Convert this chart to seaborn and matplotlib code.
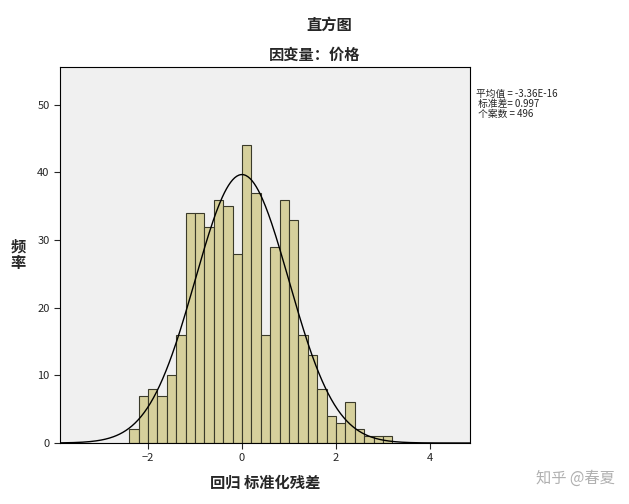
# SPSS-style residual histogram
import matplotlib.pyplot as plt
import numpy as np
import pandas as pd
import seaborn as sns

bin_left = np.round(np.arange(-2.4, 3.2, 0.2), 1)
counts = [2, 7, 8, 7, 10, 16, 34, 34, 32, 36, 35, 28, 44, 37,
          16, 29, 36, 33, 16, 13, 8, 4, 3, 6, 2, 1, 1, 1]
mean, std, n = -3.36e-16, 0.997, 496
width = 0.2

sns.set_style("white")
plt.rcParams['font.family'] = ['Noto Sans CJK SC', 'DejaVu Sans']

fig = plt.figure(figsize=(6.29, 5.04), dpi=100)
ax = fig.add_axes([60 / 629, 1 - 443 / 504, 410 / 629, 376 / 504])
ax.set_facecolor('#f0f0f0')

df = pd.DataFrame({'mid': bin_left + width / 2, 'count': counts})
edges = list(np.append(bin_left, bin_left[-1] + width))
sns.histplot(data=df, x='mid', weights='count', bins=edges, ax=ax,
             color='#d6d09c', edgecolor='#3a3a2a', linewidth=0.8, alpha=1)

xs = np.linspace(-3.87, 4.85, 400)
ys = n * width / (std * np.sqrt(2 * np.pi)) * np.exp(-0.5 * ((xs - mean) / std) ** 2)
ax.plot(xs, ys, color='black', lw=1)

ax.set_xlim(-3.87, 4.85)
ax.set_ylim(0, 55.6)
ax.set_xticks([-2, 0, 2, 4])
ax.set_yticks([0, 10, 20, 30, 40, 50])
ax.tick_params(labelsize=8, length=4, direction='out', bottom=True, left=True)
for s in ax.spines.values():
    s.set_color('black')
    s.set_linewidth(0.8)
ax.set_xlabel('回归 标准化残差', fontsize=11, labelpad=8, fontweight='bold')
ax.set_ylabel('频\n率', fontsize=11, rotation=0, va='center', labelpad=14,
              fontweight='bold', linespacing=1.0)

fig.text(329 / 629, 1 - 25 / 504, '直方图', ha='center', va='center',
         fontsize=11, fontweight='bold')
fig.text(315 / 629, 1 - 55 / 504, '因变量：价格', ha='center', va='center',
         fontsize=11, fontweight='bold')
fig.text(476 / 629, 1 - 104 / 504, '平均值 = -3.36E-16\n 标准差= 0.997\n 个案数 = 496',
         ha='left', va='center', fontsize=7, linespacing=1.0)
fig.text(615 / 629, 1 - 478 / 504, '知乎 @春夏', ha='right', va='center',
         fontsize=11, color='#b0b0b0')

plt.savefig('out.png', dpi=100)
